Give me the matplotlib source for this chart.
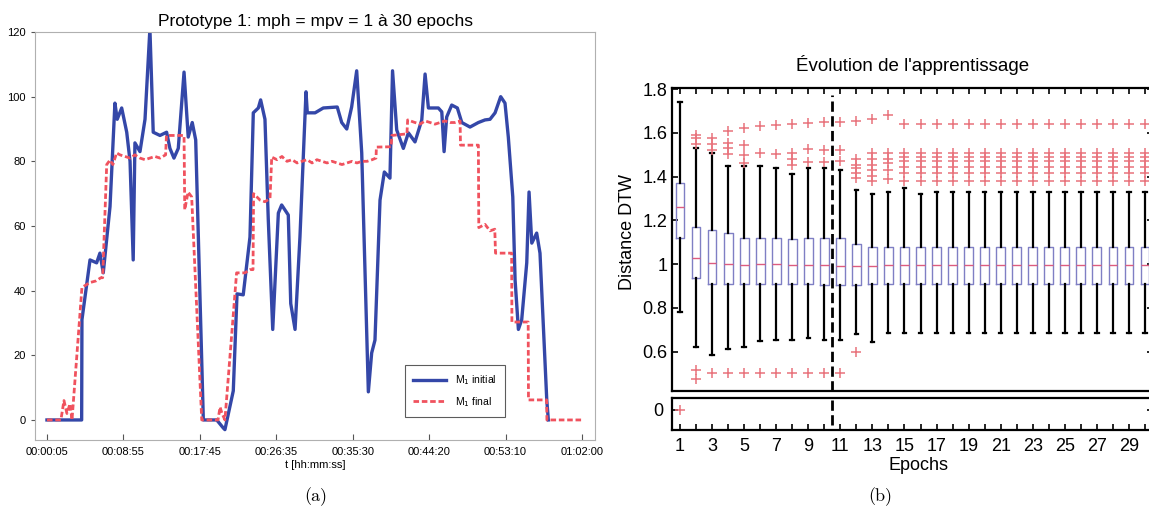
import numpy as np
import matplotlib.pyplot as plt
from matplotlib.ticker import FuncFormatter

# ---- (a) prototype time series, time in seconds ----
t_init = [5, 246, 248, 304, 350, 373, 396, 443, 477, 493, 524, 559, 582, 604, 616, 651, 686, 720, 743, 790,
          836, 859, 887, 917, 957, 986, 1014, 1038, 1091, 1184, 1230, 1241, 1299, 1325, 1368, 1415, 1438, 1473,
          1489, 1519, 1542, 1573, 1612, 1635, 1681, 1698, 1728, 1762, 1804, 1813, 1867, 1924, 2021, 2052, 2087,
          2121, 2156, 2191, 2237, 2260, 2283, 2318, 2348, 2387, 2405, 2434, 2480, 2515, 2561, 2608, 2631, 2654,
          2723, 2747, 2763, 2781, 2816, 2855, 2886, 2943, 3001, 3047, 3082, 3117, 3156, 3186, 3209, 3240, 3256,
          3279, 3302, 3337, 3353, 3372, 3406, 3429, 3476, 3487]
v_init = [0, 0, 31, 49.5, 48.6, 51.6, 45.5, 66, 98, 93, 96.5, 89, 80, 49.5, 85.7, 83, 93, 121, 89, 88,
          89, 84, 81, 84, 107.6, 87.5, 92, 86.6, 0, 0, -2.5, -3, 9, 39, 38.7, 56.6, 95, 96.5,
          99, 93, 62, 28, 64, 66.5, 63.4, 36, 28, 56.6, 101.5, 95, 95, 96.5, 96.8, 92, 90,
          96.8, 108, 82.6, 8.7, 20.7, 24.7, 68, 76.7, 74.8, 108, 89.7, 84, 88.8, 86, 92.8, 107, 96.5,
          96.5, 95.3, 83, 93.7, 97.4, 96.5, 92, 90.6, 92, 92.8, 93, 95, 100, 98, 87.5, 69, 43.3,
          28, 31, 48.6, 70.5, 54.7, 57.8, 51.6, 6.2, 0]

t_final = [5, 102, 123, 144, 165, 179, 248, 304, 345, 380, 392, 420, 443, 463, 489, 512, 547, 582, 616, 651,
           686, 720, 755, 790, 829, 835, 957, 962, 985, 1010, 1080, 1193, 1207, 1221, 1241, 1322, 1380, 1415,
           1436, 1440, 1485, 1519, 1554, 1566, 1603, 1637, 1672, 1707, 1742, 1776, 1811, 1846, 1880, 1915,
           1950, 1985, 2019, 2054, 2089, 2124, 2158, 2193, 2228, 2263, 2290, 2293, 2395, 2400, 2505, 2510,
           2561, 2596, 2631, 2666, 2700, 2735, 2770, 2805, 2839, 2874, 2877, 3001, 3004, 3047, 3082, 3115,
           3120, 3232, 3234, 3347, 3349, 3475, 3477, 3719]
v_final = [0, 0, 6, 2, 5, 0, 41, 42.5, 43, 44, 44, 79, 80.4, 79, 82.6, 82, 81.5, 81, 82, 81,
           80.5, 81, 81.5, 81, 82, 88, 88, 65, 70.5, 69, 0, 0, 4, 2, 0, 45.5, 45.5, 46.5,
           46.5, 70, 68, 67.5, 68.5, 81.3, 80.5, 81.5, 80, 80.5, 79.5, 80, 80.5, 79.5, 80.5, 80,
           79.5, 80, 79.5, 79, 79.5, 80, 79.5, 80, 80, 80.5, 81, 84.4, 84.5, 88, 88.5, 92.8,
           92, 91.5, 92.5, 92, 91.5, 92, 92.5, 92, 92, 92.5, 85, 85, 59.5, 60.5, 58.5, 59,
           51.6, 51.6, 30.3, 30.3, 6.2, 6.2, 0, 0]

time_ticks = [5, 535, 1065, 1595, 2130, 2660, 3190, 3720]

# ---- (b) DTW distance boxplots per epoch ----
epochs = list(range(1, 31))
q1 = [1.12, 0.935, 0.91, 0.91, 0.91, 0.91, 0.91, 0.91, 0.91, 0.905, 0.905, 0.905, 0.91] + [0.91] * 17
med = [1.26, 1.027, 1.006, 1.0, 0.995, 1.0, 1.0, 0.995, 0.995, 0.995, 0.99, 0.99, 0.99] + [0.995] * 17
q3 = [1.37, 1.17, 1.155, 1.14, 1.12, 1.12, 1.12, 1.115, 1.12, 1.12, 1.12, 1.09, 1.08] + [1.08] * 17
whislo = [0.78, 0.62, 0.585, 0.61, 0.62, 0.65, 0.655, 0.655, 0.66, 0.655, 0.655, 0.68, 0.645] + [0.685] * 17
whishi = [1.74, 1.53, 1.51, 1.45, 1.45, 1.45, 1.44, 1.41, 1.44, 1.44, 1.43, 1.34, 1.32,
          1.33, 1.35, 1.32, 1.33, 1.33, 1.33, 1.33, 1.33, 1.33, 1.33, 1.33, 1.33, 1.33, 1.33, 1.33, 1.33, 1.33]
late_outliers = [1.64, 1.51, 1.49, 1.47, 1.445, 1.415, 1.38]
fliers = [
    [0.0],
    [1.59, 1.575, 1.55, 0.515, 0.475],
    [1.575, 1.55, 1.52, 0.5],
    [1.61, 1.555, 1.53, 1.505, 0.5],
    [1.62, 1.545, 1.50, 1.46, 0.5],
    [1.63, 1.51, 0.5],
    [1.635, 1.505, 0.5],
    [1.64, 1.51, 1.48, 1.455, 0.5],
    [1.645, 1.525, 1.465, 0.5],
    [1.65, 1.52, 1.465, 0.5],
    [1.65, 1.52, 1.47, 0.5],
    [1.655, 1.48, 1.455, 1.44, 1.415, 1.395, 0.597],
    [1.665, 1.51, 1.48, 1.455, 1.43, 1.405, 1.38],
    [1.68, 1.51, 1.48, 1.46, 1.43, 1.39],
] + [late_outliers] * 16


def hms(t, pos=None):
    t = int(round(t))
    return f"{t // 3600:02d}:{t % 3600 // 60:02d}:{t % 60:02d}"


W, H = 1149, 519
fig = plt.figure(figsize=(W / 100, H / 100), dpi=100)
plt.rcParams["font.family"] = ["Liberation Sans", "DejaVu Sans"]

# left panel
ax = fig.add_axes([35 / W, 79 / H, 560 / W, 408 / H])
ax.plot(t_init, v_init, color="#3447a8", linewidth=2.4, label=r"M$_1$ initial")
ax.plot(t_final, v_final, color="#f0525e", linewidth=2.0, linestyle=(0, (2, 1)), label=r"M$_1$ final")
ax.set_xlim(-78, 3811)
ax.set_ylim(-6.2, 120)
ax.set_xticks(time_ticks)
ax.xaxis.set_major_formatter(FuncFormatter(hms))
ax.set_yticks(range(0, 121, 20))
ax.tick_params(axis="x", direction="in", length=4, labelsize=8, pad=5, color="#555555")
ax.tick_params(axis="y", direction="out", length=3, labelsize=8, color="#555555")
for s in ax.spines.values():
    s.set_color("#b0b0b0")
ax.set_title("Prototype 1: mph = mpv = 1 à 30 epochs", fontsize=12.5, pad=4)
ax.set_xlabel("t [hh:mm:ss]", fontsize=8, labelpad=2)
leg = ax.legend(loc="lower right", bbox_to_anchor=(0.848, 0.044), fontsize=7.5, fancybox=False,
                handlelength=3.2, borderpad=0.8, labelspacing=0.7)
leg.get_frame().set_edgecolor("#333333")
leg.get_frame().set_linewidth(0.8)

# right panel: broken axis
axu = fig.add_axes([672 / W, 128 / H, 481 / W, 303 / H])
axl = fig.add_axes([672 / W, 89 / H, 481 / W, 32 / H])

stats = []
for i in range(len(epochs)):
    stats.append(dict(med=med[i], q1=q1[i], q3=q3[i], whislo=whislo[i], whishi=whishi[i], fliers=fliers[i]))

for a in (axu, axl):
    a.bxp(stats, positions=epochs, widths=0.55, capwidths=0.22, manage_ticks=False,
          boxprops=dict(color="#7f7fc4", linewidth=1.0),
          medianprops=dict(color="#dc5c80", linewidth=1.0),
          whiskerprops=dict(color="black", linewidth=1.6, linestyle="-"),
          capprops=dict(color="black", linewidth=1.6),
          flierprops=dict(marker="+", markeredgecolor="#e8737c", markersize=7, markeredgewidth=1.1))
    a.set_xlim(0.5, 30.5)
    for s in a.spines.values():
        s.set_linewidth(1.6)

axu.set_ylim(0.42, 1.805)
axu.set_yticks([0.6, 0.8, 1.0, 1.2, 1.4, 1.6, 1.8])
axu.yaxis.set_major_formatter(FuncFormatter(lambda v, p: f"{v:g}"))
axu.set_xticks(epochs)
axu.tick_params(direction="in", top=True, right=True, bottom=False, labelbottom=False,
                length=4, width=1.2, labelsize=13)
axu.axvline(10.5, ymax=0.978, color="black", linestyle="--", linewidth=2)
axu.set_title("Évolution de l'apprentissage", fontsize=13.5, pad=12)

axl.set_ylim(-0.092, 0.055)
axl.set_yticks([0])
axl.set_xticks(epochs)
axl.set_xticklabels([str(e) if e % 2 else "" for e in epochs])
axl.tick_params(direction="in", right=True, length=4, width=1.2, labelsize=13, pad=6)
axl.axvline(10.5, ymin=0.15, color="black", linestyle="--", linewidth=2)

fig.text(628 / W, 1 - 232 / H, "Distance DTW", rotation=90, ha="center", va="center", fontsize=13)
fig.text(919 / W, 1 - 466 / H, "Epochs", ha="center", va="center", fontsize=13)

fig.text(316 / W, 1 - 497 / H, "(a)", ha="center", va="center", family="cmr10", fontsize=13)
fig.text(880 / W, 1 - 497 / H, "(b)", ha="center", va="center", family="cmr10", fontsize=13)

fig.savefig("out.png", dpi=100)
